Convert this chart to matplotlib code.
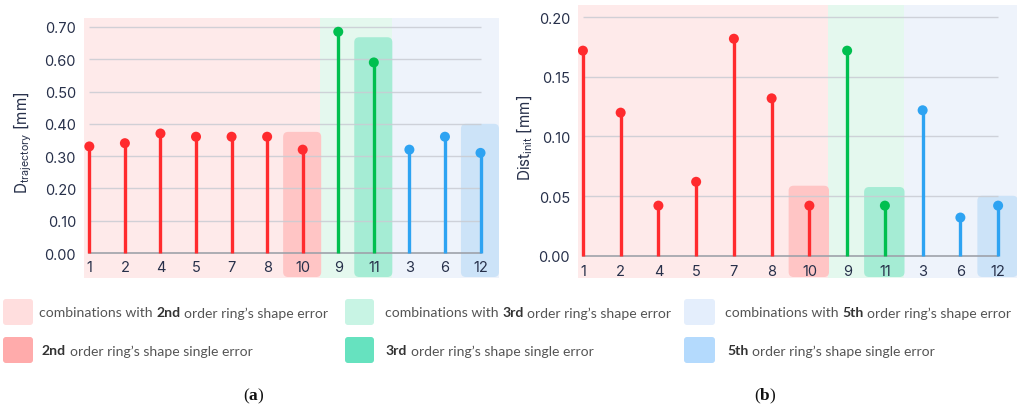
import matplotlib
matplotlib.use("Agg")
import matplotlib.pyplot as plt
from matplotlib.patches import FancyBboxPatch
from matplotlib.transforms import blended_transform_factory

# ---- data -------------------------------------------------------------
case_labels = ['1', '2', '4', '5', '7', '8', '10', '9', '11', '3', '6', '12']
case_group = ['r', 'r', 'r', 'r', 'r', 'r', 'r', 'g', 'g', 'b', 'b', 'b']
d_trajectory = [0.33, 0.34, 0.37, 0.36, 0.36, 0.36, 0.32, 0.685, 0.59, 0.32, 0.36, 0.31]
dist_init = [0.172, 0.12, 0.042, 0.062, 0.182, 0.132, 0.042, 0.172, 0.042, 0.122, 0.032, 0.042]

# single-error cases and the height of their highlight boxes
single_idx = [6, 8, 11]
single_group = ['r', 'g', 'b']
traj_box_top = [0.375, 0.668, 0.40]
init_box_top = [0.0587, 0.0576, 0.0503]

traj_ticks = [0.0, 0.1, 0.2, 0.3, 0.4, 0.5, 0.6, 0.7]
init_ticks = [0.0, 0.05, 0.10, 0.15, 0.20]

legend_rows = [
    [("combinations with ", False), ("2nd", True), (" order ring\u2019s shape error", False)],
    [("2nd", True), (" order ring\u2019s shape single error", False)],
    [("combinations with ", False), ("3rd", True), (" order ring\u2019s shape error", False)],
    [("3rd", True), (" order ring\u2019s shape single error", False)],
    [("combinations with ", False), ("5th", True), (" order ring\u2019s shape error", False)],
    [("5th", True), (" order ring\u2019s shape single error", False)],
]
captions = [[("(", False), ("a", True), (")", False)],
            [("(", False), ("b", True), (")", False)]]

# ---- style ------------------------------------------------------------
stem_col = {'r': '#ff2b2e', 'g': '#00bf4f', 'b': '#2ea3f2'}
bg_col = {'r': '#feeaea', 'g': '#e4f8ee', 'b': '#eef3fb'}
box_col = {'r': '#ffc5c5', 'g': '#a5ecd4', 'b': '#cce3f8'}
leg_light = {'r': '#ffdede', 'g': '#c8f4e4', 'b': '#e4eefc'}
leg_strong = {'r': '#ffabab', 'g': '#66e2bf', 'b': '#b4dafd'}
txt_col = '#27304a'
W, H = 1026, 410

plt.rcParams['font.family'] = ['Inter', 'DejaVu Sans']
fig = plt.figure(figsize=(W / 100, H / 100), dpi=100)
fig.patch.set_facecolor('white')


def px_axes(left, right, top, bottom):
    return fig.add_axes([left / W, (H - bottom) / H, (right - left) / W, (bottom - top) / H])


def draw_panel(ax, values, box_tops, ticks, fmt, xlim, ylim, label_y):
    n = len(values)
    ax.set_xlim(*xlim)
    ax.set_ylim(*ylim)
    for s in ax.spines.values():
        s.set_visible(False)
    ax.set_xticks([])
    # group backgrounds
    bounds = {'r': (xlim[0], 6.5), 'g': (6.5, 8.5), 'b': (8.5, xlim[1])}
    for g, (a, b) in bounds.items():
        ax.axvspan(a, b, color=bg_col[g], lw=0, zorder=0)
    # rounded highlight boxes
    fig.canvas.draw()
    t0 = ax.transData.transform((0, 0))
    t1 = ax.transData.transform((1, 1))
    ux = t1[0] - t0[0]
    uy = t1[1] - t0[1]
    r = 5.0 / ux
    for i, g, top in zip(single_idx, single_group, box_tops):
        y0 = ylim[0] + 1.0 / uy
        box = FancyBboxPatch((i - 0.55, y0), 1.07, top - y0,
                             boxstyle=f"round,pad=0,rounding_size={r}",
                             mutation_aspect=ux / uy,
                             fc=box_col[g], ec='none', zorder=1)
        ax.add_patch(box)
    # grid
    for t in ticks[1:]:
        ax.plot([0, n - 1], [t, t], color='#c9ccd3', lw=1.0, alpha=0.85, zorder=2,
                solid_capstyle='butt')
    ax.plot([0, n - 1], [0, 0], color='#9ea2aa', lw=1.2, zorder=2.5)
    # stems
    xs = list(range(n))
    cols = [stem_col[g] for g in case_group]
    ax.vlines(xs, 0, values, colors=cols, lw=2.4, zorder=3)
    ax.scatter(xs, values, s=52, c=cols, zorder=4, linewidths=0)
    # y ticks
    ax.set_yticks(ticks)
    ax.set_yticklabels([fmt.format(t) for t in ticks])
    ax.tick_params(axis='y', length=0, pad=5.8, labelsize=10.5, labelcolor=txt_col)
    # category labels inside the band
    tr = blended_transform_factory(ax.transData, ax.transAxes)
    for i, lab in enumerate(case_labels):
        ax.text(i, label_y, lab, transform=tr, ha='center', va='center',
                fontsize=10.5, color=txt_col, zorder=5)


ax_a = px_axes(84, 499, 19, 279)
draw_panel(ax_a, d_trajectory, traj_box_top, traj_ticks, '{:.2f}',
           (-0.15, 11.52), (-0.0774, 0.7276), 0.042)
ax_b = px_axes(578, 1017, 6, 279)
draw_panel(ax_b, dist_init, init_box_top, init_ticks, '{:.2f}',
           (-0.13, 11.5), (-0.0187, 0.2103), 0.026)

fig.text(23 / W, 1 - 142.5 / H, r'D$\mathregular{_{trajectory}}$ [mm]', rotation=90,
         ha='center', va='center', fontsize=11, color=txt_col)
fig.text(525 / W, 1 - 138 / H, r'Dist$\mathregular{_{init}}$ [mm]', rotation=90,
         ha='center', va='center', fontsize=11, color=txt_col)

# ---- legend and captions on a pixel-space overlay -------------------------
ov = fig.add_axes([0, 0, 1, 1], zorder=10)
ov.set_xlim(0, W)
ov.set_ylim(H, 0)
ov.axis('off')
fig.canvas.draw()
renderer = fig.canvas.get_renderer()


def text_width(s, **kw):
    t = ov.text(0, 0, s, **kw)
    w = t.get_window_extent(renderer).width
    t.remove()
    return w


def rich(x, y, parts, size, family, color, bold_color, draw=True):
    sp = text_width('x x', fontsize=size, family=family) - text_width('xx', fontsize=size, family=family)
    start = x
    for s, bold in parts:
        lead = len(s) - len(s.lstrip(' '))
        trail = len(s) - len(s.rstrip(' '))
        x += lead * sp
        core = s.strip(' ')
        t = ov.text(x, y, core, ha='left', va='center', fontsize=size, family=family,
                    fontweight='bold' if bold else 'normal',
                    color=bold_color if bold else color)
        x += t.get_window_extent(renderer).width + trail * sp
        if not draw:
            t.remove()
    return x - start


sq = [(3, 33), (345, 374), (684, 715)]
txt_x = [(39, 42), (385, 386), (725, 727)]
rows_y = [(300, 326), (338, 364)]
for k, g in enumerate(['r', 'g', 'b']):
    for j in range(2):
        x0, x1 = sq[k]
        y0, y1 = rows_y[j]
        fc = leg_light[g] if j == 0 else leg_strong[g]
        ov.add_patch(FancyBboxPatch((x0, y0), x1 - x0, y1 - y0,
                                    boxstyle="round,pad=0,rounding_size=3",
                                    fc=fc, ec='none'))
        rich(txt_x[k][j], (y0 + y1) / 2 + 0.5, legend_rows[2 * k + j], 10.1,
             ['Lato', 'DejaVu Sans'], '#555555', '#333333')

serif = ['Liberation Serif', 'DejaVu Serif']
for cx, parts in zip([253, 765], captions):
    w = rich(0, 396, parts, 12.5, serif, '#111111', '#111111', draw=False)
    rich(cx - w / 2, 396, parts, 12.5, serif, '#111111', '#111111')

fig.savefig('out.png', dpi=100, facecolor='white')
